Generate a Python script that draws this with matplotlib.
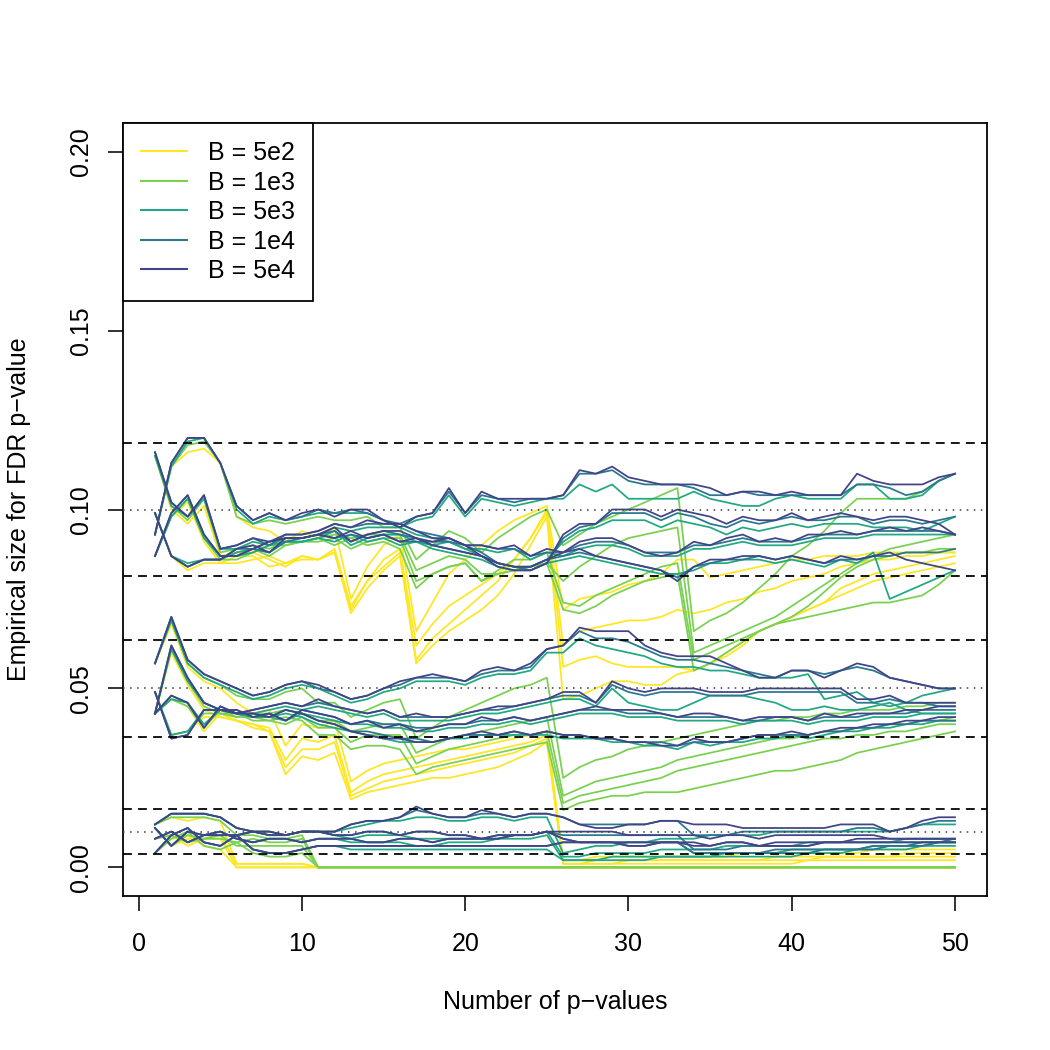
import matplotlib.pyplot as plt
from matplotlib.lines import Line2D

plt.rcParams['font.family'] = ['Liberation Sans', 'DejaVu Sans']

# number of p-values on the x axis
n_pvalues = list(range(1, 51))

b_labels = ["B = 5e2", "B = 1e3", "B = 5e3", "B = 1e4", "B = 5e4"]
b_colors = ["#FDE725", "#7AD151", "#22A884", "#2A788E", "#414487"]

# empirical size (x 1000), 4 simulation settings per level
# ---- nominal 0.10 ----
b5e4_a10 = [
    [93,113,120,120,113,101,97,99,97,99, 100,98,100,100,97,95,98,99,106,99, 105,103,103,103,103,104,111,110,112,109, 108,107,107,107,106,104,105,105,104,105, 104,104,104,110,108,107,107,107,109,110],
    [116,102,98,104,89,90,92,91,93,93, 94,96,95,97,96,96,94,92,92,90, 87,84,83,83,85,93,96,96,100,100, 100,98,100,99,98,96,98,97,97,99, 97,98,99,98,97,98,98,97,96,93],
    [99,87,84,86,86,89,90,88,92,92, 93,92,94,92,93,91,92,91,92,90, 90,89,90,87,89,88,91,92,92,90, 88,87,88,91,90,92,93,91,92,91, 93,93,94,93,94,95,94,95,94,93],
    [87,99,104,93,87,87,89,91,92,92, 93,95,91,93,94,94,92,90,89,88, 87,85,84,84,86,88,89,87,86,85, 84,83,80,84,86,86,87,87,86,87, 86,85,87,86,87,88,86,85,84,83],
]
b1e4_a10 = [
    [93,113,120,120,113,101,97,99,97,98, 100,99,100,99,97,96,98,99,105,99, 104,103,102,103,103,104,110,110,111,108, 107,107,107,106,104,104,105,104,104,104, 104,104,104,107,107,106,104,105,108,110],
    [116,102,98,104,89,90,92,90,93,93, 94,96,95,96,96,96,94,93,92,90, 88,85,84,83,85,92,95,96,99,99, 99,97,99,98,96,95,97,96,97,98, 97,97,98,98,96,97,97,96,97,98],
    [99,87,84,86,86,89,89,88,91,92, 93,92,93,92,93,91,91,91,91,90, 90,89,89,87,88,88,90,91,91,90, 88,88,88,90,90,91,92,91,91,91, 92,93,93,93,94,94,94,94,94,93],
    [87,99,104,93,87,87,89,91,92,92, 93,94,91,93,94,93,92,90,89,88, 87,85,84,84,86,87,88,87,86,85, 84,83,81,84,85,86,86,87,86,87, 86,85,86,86,87,87,88,88,88,89],
]
b5e3_a10 = [
    [93,112,119,120,113,100,96,98,97,98, 99,99,99,99,97,95,97,98,104,98, 103,102,101,102,103,103,107,105,107,103, 103,103,103,105,103,102,101,101,103,104, 103,103,103,107,107,103,103,104,108,110],
    [115,101,98,103,89,89,91,90,92,92, 93,95,94,95,95,95,93,92,91,89, 87,85,84,84,86,91,94,95,97,97, 97,95,97,96,95,93,95,94,95,96, 95,96,96,96,95,95,95,94,96,98],
    [99,87,85,86,86,88,89,88,91,91, 92,91,93,91,92,90,91,90,91,89, 89,88,89,86,88,87,89,90,90,89, 87,87,87,89,89,90,91,90,90,90, 91,92,92,92,93,93,93,93,93,93],
    [87,98,103,92,87,87,88,90,91,91, 92,94,90,92,93,93,91,89,88,87, 86,84,83,83,85,86,87,86,85,84, 83,82,82,83,85,85,86,86,85,86, 85,84,86,85,88,75,77,79,81,83],
]
b1e3_a10 = [
    [93,112,118,119,113,98,96,97,96,97, 98,97,97,98,95,95,86,90,94,92, 88,92,95,98,100,90,93,96,98,100, 102,104,106,66,69,71,74,78,82,87, 90,94,99,103,103,103,103,105,108,110],
    [115,101,97,103,88,89,90,89,91,91, 92,93,92,93,93,93,83,85,87,86, 82,82,83,84,85,80,84,87,90,92, 93,94,95,60,62,64,66,68,70,73, 76,79,82,85,87,89,90,91,92,93],
    [99,87,84,86,86,88,89,87,90,91, 92,90,92,90,91,89,78,82,84,85, 80,83,86,86,88,74,73,76,78,80, 82,84,85,58,60,62,64,66,68,70, 73,77,81,84,86,87,88,88,89,89],
    [87,98,103,92,86,86,88,90,90,91, 91,92,89,91,92,92,80,82,84,85, 80,82,83,84,85,72,71,73,76,78, 80,81,82,55,57,60,63,66,68,69, 70,71,72,73,74,74,75,76,79,83],
]
b5e2_a10 = [
    [93,112,116,117,113,98,95,94,91,94, 92,95,75,84,90,93,66,74,82,86, 90,94,97,99,101,72,75,76,77,79, 80,82,86,86,81,82,83,84,85,86, 86,87,87,87,88,88,88,88,88,88],
    [115,100,96,101,87,88,88,86,84,87, 86,89,73,80,86,89,62,68,73,76, 79,82,86,92,100,62,66,67,68,69, 69,70,72,71,72,74,75,77,78,80, 81,82,84,85,86,86,87,87,88,88],
    [99,87,83,85,85,87,87,84,85,87, 86,88,72,80,84,88,58,64,68,72, 76,80,86,92,99,56,58,59,57,56, 56,56,56,55,57,60,63,66,68,70, 72,74,78,80,82,83,84,85,86,87],
    [87,98,102,91,85,85,86,87,85,86, 86,88,71,78,83,87,57,62,66,69, 72,76,82,90,98,47,48,50,52,52, 51,51,54,55,57,59,62,66,68,70, 72,74,76,78,80,81,82,83,84,85],
]

# ---- nominal 0.05 ----
b5e4_a05 = [
    [57,70,58,54,52,50,48,49,51,52, 51,49,47,48,50,52,53,54,53,52, 55,56,55,57,61,62,67,66,66,66, 62,60,59,59,59,57,55,53,53,55, 55,53,55,57,56,53,52,51,50,50],
    [43,62,53,46,44,43,44,45,46,45, 47,45,44,43,44,42,43,42,42,43, 44,45,45,46,47,49,49,46,52,50, 49,50,50,50,49,49,49,50,50,50, 50,50,50,47,47,48,46,46,46,46],
    [49,36,37,44,44,44,42,43,41,44, 43,42,40,41,39,40,38,39,40,40, 42,41,42,41,42,43,44,45,44,44, 44,43,42,43,43,42,41,42,42,42, 41,43,42,43,43,43,44,44,45,45],
    [43,48,46,39,45,43,43,42,44,43, 41,40,38,37,36,36,35,35,36,37, 38,37,38,37,38,37,37,36,36,35, 35,34,34,36,35,35,36,37,37,38, 37,38,39,39,40,40,41,41,42,42],
]
b1e4_a05 = [
    [57,70,58,54,52,50,48,49,51,52, 50,49,47,48,50,51,53,53,53,52, 54,55,55,56,61,62,66,64,64,63, 61,59,58,58,57,56,55,54,53,55, 55,54,55,56,55,53,52,51,50,50],
    [43,62,53,46,44,43,44,45,46,45, 46,45,44,43,44,42,42,42,42,43, 44,44,45,46,47,48,48,46,51,49, 48,49,49,49,48,48,48,49,49,49, 49,49,49,46,46,47,46,46,45,45],
    [49,36,37,44,44,44,42,43,41,44, 43,42,40,41,40,40,39,39,40,40, 41,41,42,41,42,43,44,44,44,43, 43,43,42,42,42,42,41,41,42,42, 41,42,42,42,43,43,43,44,44,44],
    [43,48,46,39,45,43,43,42,44,43, 41,40,38,38,37,36,36,35,36,37, 37,37,38,37,38,37,37,36,36,35, 35,35,34,35,35,35,36,37,37,37, 37,38,38,39,39,40,40,41,41,41],
]
b5e3_a05 = [
    [57,69,57,53,51,49,47,48,50,51, 50,48,46,47,49,50,52,52,52,51, 53,54,54,55,60,60,64,62,61,60, 59,57,56,56,55,55,54,53,53,53, 54,47,48,49,46,45,46,48,49,50],
    [43,61,52,46,44,43,43,44,45,44, 45,44,43,42,43,41,41,41,41,42, 43,43,44,45,46,47,47,45,50,46, 45,44,44,46,48,48,48,47,46,44, 44,45,44,44,45,46,44,43,43,43],
    [49,37,38,44,44,43,42,42,41,43, 42,41,40,40,39,39,38,38,39,39, 40,40,41,40,41,42,43,43,43,42, 42,42,41,41,41,41,40,41,41,41, 40,41,41,41,42,42,42,43,43,43],
    [43,47,46,40,44,43,42,42,43,42, 40,39,38,37,36,35,35,35,36,36, 37,37,37,37,37,36,36,36,35,35, 34,34,33,35,34,35,35,36,36,37, 36,37,38,38,39,39,40,40,41,41],
]
b1e3_a05 = [
    [57,69,57,53,51,48,47,47,49,50, 46,46,42,44,46,47,36,39,42,44, 46,48,50,51,53,25,28,30,31,33, 34,35,36,37,38,39,40,41,41,42, 42,43,43,44,44,44,45,45,46,46],
    [43,61,52,45,43,42,43,43,44,43, 41,41,38,39,40,40,32,34,36,37, 38,39,40,41,42,20,22,24,25,26, 27,28,30,31,32,33,34,35,36,36, 37,38,38,39,39,40,40,41,41,42],
    [49,37,38,43,43,43,41,41,40,42, 39,39,35,37,37,37,29,31,33,34, 35,36,37,37,38,18,20,21,22,23, 24,25,27,28,29,30,31,32,33,34, 35,36,36,37,37,38,38,39,40,40],
    [43,47,45,39,44,42,42,41,42,41, 37,37,33,34,34,33,26,28,29,30, 31,32,33,34,35,16,18,19,20,20, 21,21,21,22,23,24,25,26,27,27, 28,29,30,32,33,34,35,36,37,38],
]
b5e2_a05 = [
    [57,68,56,52,50,46,43,44,34,40, 39,41,24,27,29,30,31,32,33,33, 34,35,36,37,38,2,2,3,3,3, 3,3,3,3,3,3,4,4,4,4, 4,4,4,4,5,5,5,5,5,5],
    [43,60,51,44,42,41,40,39,30,36, 35,37,21,24,26,27,28,29,30,31, 32,33,34,35,37,1,1,2,2,2, 2,2,2,2,2,2,2,2,3,3, 3,3,3,3,3,3,4,4,4,4],
    [49,37,38,42,42,41,39,38,28,33, 33,35,20,22,24,25,26,27,28,29, 30,31,32,34,36,1,1,1,1,2, 2,2,2,2,2,2,2,2,2,2, 2,3,3,3,3,3,3,3,3,3],
    [43,47,45,38,43,41,40,38,26,31, 30,32,19,21,22,23,24,25,25,26, 27,28,30,32,35,1,1,1,1,1, 1,1,1,1,1,1,1,1,1,1, 2,2,2,2,2,2,2,2,2,2],
]

# ---- nominal 0.01 ----
b5e4_a01 = [
    [12,15,15,15,14,11,10,10,9,10, 10,10,12,13,13,14,17,15,14,14, 16,15,14,15,15,14,12,11,11,12, 12,13,13,12,12,12,11,11,11,11, 11,11,12,12,12,10,11,13,14,14],
    [11,6,10,9,9,9,10,9,9,10, 10,9,9,10,10,9,10,10,9,9, 8,8,9,9,10,10,10,10,10,9, 9,9,9,9,8,9,9,8,9,9, 9,9,9,9,9,8,8,8,8,8],
    [8,10,7,9,10,8,7,8,8,7, 8,8,8,7,7,8,8,7,8,8, 8,9,9,9,10,8,7,7,7,7, 7,7,7,7,6,7,7,6,7,7, 7,7,7,7,7,7,7,7,7,7],
    [4,9,11,7,6,9,5,4,4,5, 6,6,6,6,6,6,6,6,6,6, 6,6,6,6,6,7,7,7,7,6, 6,7,7,6,6,7,7,6,6,6, 6,7,7,8,8,8,8,8,8,8],
]
b1e4_a01 = [
    [12,15,15,15,14,11,10,10,9,10, 10,10,12,13,13,14,16,15,14,14, 15,15,14,15,15,14,12,12,12,12, 12,13,13,9,9,9,10,10,10,10, 10,10,10,11,11,10,11,12,13,13],
    [11,6,10,9,9,9,10,9,9,10, 10,9,9,10,10,9,10,10,9,9, 8,8,9,9,10,9,9,9,9,9, 9,9,9,5,5,5,6,6,6,6, 6,7,7,7,7,7,7,7,7,8],
    [8,10,7,9,10,8,7,8,8,7, 8,8,8,7,7,8,8,7,8,8, 8,9,9,9,10,8,7,7,7,7, 7,7,7,4,4,4,4,4,5,5, 5,5,5,5,6,6,6,7,7,7],
    [4,9,11,7,6,9,5,4,4,5, 6,6,6,6,6,6,6,6,6,6, 6,6,6,6,6,7,7,7,7,6, 6,7,7,4,4,4,4,4,4,4, 4,5,5,5,5,6,6,6,7,7],
]
b5e3_a01 = [
    [12,15,15,15,14,11,10,10,9,10, 10,10,11,12,13,13,14,14,13,13, 14,14,13,14,14,4,5,6,6,7, 7,8,8,8,9,9,9,9,10,10, 10,10,10,10,10,10,11,12,12,12],
    [11,6,10,9,9,9,10,9,9,10, 10,9,8,9,9,9,8,8,8,8, 8,8,9,9,10,3,3,4,4,4, 4,5,5,5,5,6,6,6,6,6, 7,7,7,7,7,7,8,8,8,8],
    [8,10,7,9,10,8,7,8,8,7, 8,8,7,7,7,7,6,6,7,7, 7,8,8,8,9,2,2,2,3,3, 3,3,3,3,3,4,4,4,4,5, 5,5,5,5,6,6,6,6,7,7],
    [4,9,11,7,6,9,5,4,4,5, 6,6,5,5,5,5,5,5,5,5, 5,5,5,5,5,2,2,2,2,2, 2,3,3,3,3,3,3,3,3,3, 4,4,4,5,5,5,5,6,6,6],
]
b1e3_a01 = [
    [12,14,14,14,13,9,9,8,8,9] + [0] * 40,
    [11,6,9,8,8,7,8,7,7,8] + [0] * 40,
    [8,9,7,8,9,6,6,6,6,6] + [0] * 40,
    [4,8,10,6,5,7,4,3,3,4] + [0] * 40,
]
b5e2_a01 = [
    [12,14,13,14,13,1,1,1,1,1] + [0] * 40,
    [11,6,8,8,8,0,0,0,0,0] + [0] * 40,
    [8,9,6,8,9,1,1,1,1,1] + [0] * 40,
    [4,8,9,6,5,0,0,0,0,0] + [0] * 40,
]

# reference lines: nominal levels and 95% bands
nominal = [0.10, 0.05, 0.01]
bands = [0.1186, 0.0814, 0.0635, 0.0365, 0.0162, 0.0038]

sizes_by_b = [
    [b5e2_a10, b5e2_a05, b5e2_a01],
    [b1e3_a10, b1e3_a05, b1e3_a01],
    [b5e3_a10, b5e3_a05, b5e3_a01],
    [b1e4_a10, b1e4_a05, b1e4_a01],
    [b5e4_a10, b5e4_a05, b5e4_a01],
]

fig = plt.figure(figsize=(7, 7), dpi=150)
ax = fig.add_axes([123/1050, 154/1050, 864/1050, 773/1050])

for col, groups in zip(b_colors, sizes_by_b):
    for group in groups:
        for vals in group:
            ax.plot(n_pvalues, [v/1000 for v in vals], color=col, lw=0.85)

for h in bands:
    ax.axhline(h, color='black', lw=0.85, linestyle=(0, (5, 3.5)), zorder=5)
for h in nominal:
    ax.axhline(h, color='0.25', lw=0.75, linestyle=(0, (1, 3.5)), zorder=5)

ax.set_xlim(-0.96, 51.96)
ax.set_ylim(-0.008, 0.208)
ax.set_xticks([0, 10, 20, 30, 40, 50])
ax.set_yticks([0, 0.05, 0.10, 0.15, 0.20])
ax.set_yticklabels(["0.00", "0.05", "0.10", "0.15", "0.20"], rotation=90, va='center')
ax.tick_params(axis='both', labelsize=12, length=7.2, width=0.75, direction='out')
ax.tick_params(axis='x', pad=10)
ax.tick_params(axis='y', pad=7)
for sp in ax.spines.values():
    sp.set_linewidth(0.85)

fig.text(555/1050, 1 - 1002/1050, "Number of p\u2212values", ha='center', va='center', fontsize=12)
fig.text(19/1050, 1 - 509/1050, "Empirical size for FDR p\u2212value", ha='center', va='center',
         rotation=90, fontsize=12)

handles = [Line2D([0], [0], color=c, lw=1.0) for c in b_colors]
leg = ax.legend(handles, b_labels, loc='upper left', bbox_to_anchor=(0, 1), borderaxespad=0,
                fontsize=12, handlelength=1.84, handletextpad=0.85, labelspacing=0.22,
                borderpad=0.72, fancybox=False, framealpha=1, edgecolor='black')
leg.get_frame().set_linewidth(0.85)

plt.savefig("out.png", dpi=150)
